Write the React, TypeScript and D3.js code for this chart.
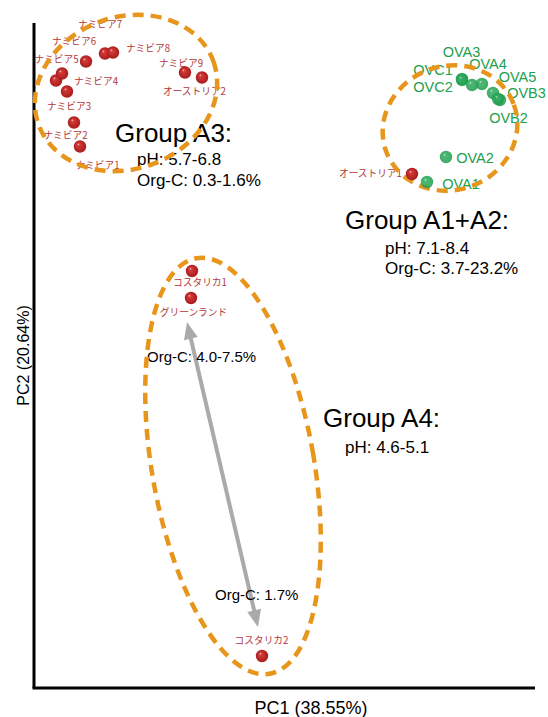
import React from "react";
import * as d3 from "d3";

const W = 548;
const H = 717;

// ---- samples (PC scores) ----
const sampleNames = [
  "ナミビア1", "ナミビア2", "ナミビア3", "ナミビア4", "ナミビア5",
  "ナミビア6", "ナミビア7", "ナミビア8", "ナミビア9", "オーストリア2",
  "オーストリア1",
  "OVA3", "OVC1", "OVC2", "OVA4", "OVA5", "OVB3", "OVB2", "OVA2", "OVA1",
  "コスタリカ1", "グリーンランド", "コスタリカ2",
];
const sampleType = [
  "soil", "soil", "soil", "soil", "soil", "soil", "soil", "soil", "soil", "soil",
  "soil",
  "ov", "ov", "ov", "ov", "ov", "ov", "ov", "ov", "ov",
  "soil", "soil", "soil",
];
const pc1 = [
  -1.98, -2.04, -2.11, -2.22, -2.16, -1.92, -1.73, -1.65, -0.93, -0.76,
  1.34,
  1.84, 1.84, 1.94, 2.04, 2.15, 2.22, 2.2, 1.68, 1.49,
  -0.86, -0.87, -0.16,
];
const pc2 = [
  2.09, 2.33, 2.64, 2.75, 2.82, 2.94, 3.02, 3.03, 2.83, 2.78,
  1.815,
  2.765, 2.755, 2.705, 2.715, 2.625, 2.555, 2.565, 1.985, 1.735,
  0.845, 0.575, -3.005,
];
// label anchor positions (PC units, repelled)
const labelPC1 = [
  -1.805, -2.125, -2.09, -1.82, -2.215, -2.04, -1.78, -1.3, -0.97, -0.835,
  0.925,
  1.835, 1.55, 1.55, 2.1, 2.395, 2.485, 2.305, 1.97, 1.83,
  -0.78, -0.845, -0.165,
];
const labelPC2 = [
  1.905, 2.205, 2.495, 2.745, 2.965, 3.145, 3.315, 3.075, 2.925, 2.645,
  1.825,
  3.035, 2.855, 2.685, 2.915, 2.785, 2.625, 2.375, 1.975, 1.715,
  0.735, 0.435, -2.845,
];

// ---- group ellipses ----
const ellipseNames = ["A3", "A1+A2", "A4"];
const ellipseCX = [-1.52, 1.72, -0.45];
const ellipseCY = [2.625, 2.275, -1.105];
const ellipseRX = [0.93, 0.68, 0.81];
const ellipseRY = [0.76, 0.62, 2.11];
const ellipseAngle = [20, 20, 10];

// ---- annotations ----
const noteTexts = [
  "Group A3:", "pH: 5.7-6.8", "Org-C: 0.3-1.6%",
  "Group A1+A2:", "pH: 7.1-8.4", "Org-C: 3.7-23.2%",
  "Group A4:", "pH: 4.6-5.1",
  "Org-C: 4.0-7.5%", "Org-C: 1.7%",
];
const noteKind = ["title", "sub", "sub", "title", "sub", "sub", "title", "sub", "arrow", "arrow"];
const notePC1 = [-1.63, -1.41, -1.41, 0.67, 1.07, 1.07, 0.45, 0.67, -1.31, -0.63];
const notePC2 = [2.135, 1.905, 1.695, 1.265, 1.015, 0.815, -0.715, -0.975, -0.065, -2.445];

// Org-C gradient arrow within A4
const arrowStart = [-0.91, 0.335];
const arrowEnd = [-0.2, -2.715];

const xLabel = "PC1 (38.55%)";
const yLabel = "PC2 (20.64%)";

export default function App() {
  const x = d3.scaleLinear().domain([-2.44, 2.44]).range([34, 522]);
  const y = d3.scaleLinear().domain([-3.325, 3.325]).range([688, 23]);
  const ux = x(1) - x(0);
  const uy = y(0) - y(1);
  const xAxisEnd = 2.57;

  const latin = "'Liberation Sans', Arial, Helvetica, sans-serif";
  const jp = "'Noto Sans CJK JP', 'Noto Sans', sans-serif";

  // arrow geometry
  const ax1 = x(arrowStart[0]);
  const ay1 = y(arrowStart[1]);
  const ax2 = x(arrowEnd[0]);
  const ay2 = y(arrowEnd[1]);
  const len = Math.hypot(ax2 - ax1, ay2 - ay1);
  const dx = (ax2 - ax1) / len;
  const dy = (ay2 - ay1) / len;
  const headL = 17;
  const headW = 7;
  const head = (tx: number, ty: number, sx: number, sy: number) => {
    const bx = tx - sx * headL;
    const by = ty - sy * headL;
    return `${tx},${ty} ${bx - sy * headW},${by + sx * headW} ${bx + sy * headW},${by - sx * headW}`;
  };

  const idx = d3.range(sampleNames.length);

  return (
    <svg
      width={W}
      height={H}
      style={{ position: "absolute", left: 0, top: 0, background: "#fff" }}
    >
      <defs>
        <radialGradient id="gRed" cx="0.5" cy="0.5" r="0.5" fx="0.35" fy="0.3">
          <stop offset="0" stopColor="#ffe0e0" />
          <stop offset="0.2" stopColor="#d43a3a" />
          <stop offset="1" stopColor="#a81c1c" />
        </radialGradient>
        <radialGradient id="gGreen" cx="0.5" cy="0.5" r="0.5" fx="0.35" fy="0.3">
          <stop offset="0" stopColor="#d8f5e0" />
          <stop offset="0.2" stopColor="#2fae5e" />
          <stop offset="1" stopColor="#1f9a4c" />
        </radialGradient>
      </defs>

      {/* axes */}
      <line x1={x(-2.44)} y1={y(-3.325)} x2={x(-2.44)} y2={y(3.325)} stroke="#000" strokeWidth={3} />
      <line x1={x(-2.44) - 1.5} y1={y(-3.325)} x2={x(xAxisEnd)} y2={y(-3.325)} stroke="#000" strokeWidth={3} />
      <text
        x={311}
        y={714}
        textAnchor="middle"
        fontFamily={latin}
        fontSize={18}
        fill="#000"
      >
        {xLabel}
      </text>
      <text
        transform={`translate(29, ${(y(-3.325) + y(3.325)) / 2}) rotate(-90)`}
        textAnchor="middle"
        fontFamily={latin}
        fontSize={16}
        fill="#000"
      >
        {yLabel}
      </text>

      {/* arrow */}
      <line
        x1={ax1 + dx * headL * 0.8}
        y1={ay1 + dy * headL * 0.8}
        x2={ax2 - dx * headL * 0.8}
        y2={ay2 - dy * headL * 0.8}
        stroke="#aaaaaa"
        strokeWidth={4}
      />
      <polygon points={head(ax1, ay1, -dx, -dy)} fill="#aaaaaa" />
      <polygon points={head(ax2, ay2, dx, dy)} fill="#aaaaaa" />

      {/* sample labels */}
      {idx.map((i) => (
        <text
          key={"l" + i}
          x={x(labelPC1[i])}
          y={y(labelPC2[i])}
          textAnchor="middle"
          dominantBaseline="central"
          fontFamily={sampleType[i] === "ov" ? latin : jp}
          fontSize={sampleType[i] === "ov" ? 14.5 : 9.7}
          fill={sampleType[i] === "ov" ? "#22a04c" : "#b23838"}
        >
          {sampleNames[i]}
        </text>
      ))}

      {/* annotations */}
      {noteTexts.map((t, i) => (
        <text
          key={"n" + i}
          x={x(notePC1[i])}
          y={y(notePC2[i])}
          fontFamily={latin}
          fontSize={noteKind[i] === "title" ? 26 : noteKind[i] === "sub" ? 17 : 15}
          fill="#000"
        >
          {t}
        </text>
      ))}

      {/* ellipses */}
      {ellipseNames.map((n, i) => (
        <ellipse
          key={"e" + n}
          cx={0}
          cy={0}
          rx={ellipseRX[i] * ux}
          ry={ellipseRY[i] * uy}
          transform={`translate(${x(ellipseCX[i])}, ${y(ellipseCY[i])}) rotate(${-ellipseAngle[i]})`}
          fill="none"
          stroke="#e8951c"
          strokeWidth={4.5}
          strokeDasharray="11 7"
        />
      ))}

      {/* points */}
      {idx.map((i) => (
        <circle
          key={"p" + i}
          cx={x(pc1[i])}
          cy={y(pc2[i])}
          r={6.2}
          fill={sampleType[i] === "ov" ? "url(#gGreen)" : "url(#gRed)"}
          opacity={sampleType[i] === "ov" ? 0.85 : 1}
        />
      ))}
    </svg>
  );
}
